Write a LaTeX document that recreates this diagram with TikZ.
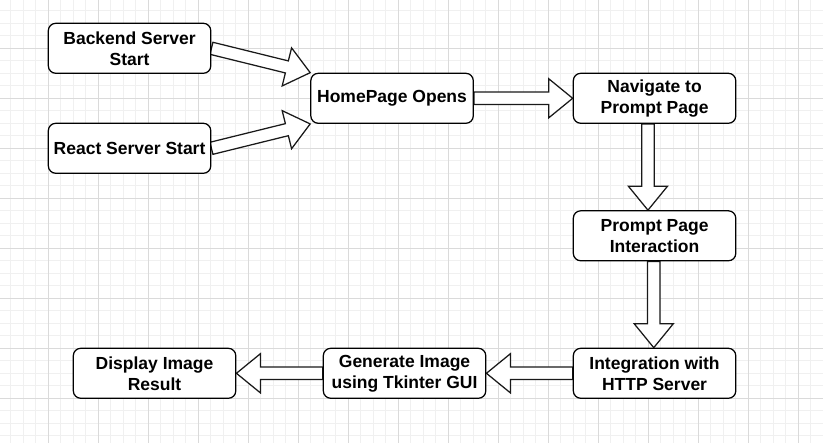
\documentclass[tikz,border=0pt]{standalone}
\usepackage{fontspec}
\setmainfont{Liberation Sans}
\usetikzlibrary{calc}
\pgfdeclarelayer{gridlayer}
\pgfdeclarelayer{arrowlayer}
\pgfsetlayers{gridlayer,arrowlayer,main}
\definecolor{minorc}{HTML}{F0F0F0}
\definecolor{majorc}{HTML}{DADADA}
\tikzset{
 box/.style={draw=black, line width=1.25pt, rounded corners=7.5pt, fill=white,
   minimum width=162.5pt, minimum height=50pt, inner sep=0pt, align=center,
   font=\fontsize{17.5}{21}\selectfont\bfseries},
 flexarrow/.style={draw=black!90, line width=1.25pt, fill=white, line join=miter},
 minorline/.style={draw=minorc, line width=1pt},
 majorline/.style={draw=majorc, line width=1pt},
}
\newcommand\blockarrow[2]{%
  \coordinate (ba-h) at ($(#2)!24pt!(#1)$);
  \draw[flexarrow] ($(#1)!6.2pt!90:(#2)$) -- ($(ba-h)!6.2pt!-90:(#1)$)
    -- ($(ba-h)!19.6pt!-90:(#1)$) -- (#2) -- ($(ba-h)!19.6pt!90:(#1)$)
    -- ($(ba-h)!6.2pt!90:(#1)$) -- ($(#1)!6.2pt!-90:(#2)$) -- cycle;
}
\begin{document}
\begin{tikzpicture}[x=1pt,y=-1pt]
\useasboundingbox (0,0) rectangle (823,443);
\begin{pgfonlayer}{gridlayer}
  \fill[white] (0,0) rectangle (823,443);
  \foreach \k in {0,...,66} \draw[minorline] ({-1.7+12.5*\k},0) -- ({-1.7+12.5*\k},443);
  \foreach \k in {0,...,36} \draw[minorline] (0,{-1.7+12.5*\k}) -- (823,{-1.7+12.5*\k});
  \foreach \k in {0,...,16} \draw[majorline] ({-1.7+50*\k},0) -- ({-1.7+50*\k},443);
  \foreach \k in {0,...,9} \draw[majorline] (0,{-1.7+50*\k}) -- (823,{-1.7+50*\k});
\end{pgfonlayer}

\node[box] (back)   at (129.55,48.3)  {Backend Server\\Start};
\node[box] (react)  at (129.55,148.3) {React Server Start};
\node[box] (home)   at (392.05,98.3)  {HomePage Opens};
\node[box] (nav)    at (654.55,98.3)  {Navigate to\\Prompt Page};
\node[box] (prompt) at (654.55,235.8) {Prompt Page\\Interaction};
\node[box] (integ)  at (654.55,373.3) {Integration with\\HTTP Server};
\node[box] (gen)    at (404.55,373.3) {Generate Image\\using Tkinter GUI};
\node[box] (disp)   at (154.55,373.3) {Display Image\\Result};

\coordinate (navout) at ([xshift=-6.6pt]nav.south);
\coordinate (promptin) at ([xshift=-6.6pt]prompt.north);
\coordinate (promptout) at ([xshift=-0.8pt]prompt.south);
\coordinate (integin) at ([xshift=-0.8pt]integ.north);

\begin{pgfonlayer}{arrowlayer}
  \blockarrow{back.east}{home.north west}
  \blockarrow{react.east}{home.south west}
  \blockarrow{home.east}{nav.west}
  \blockarrow{navout}{promptin}
  \blockarrow{promptout}{integin}
  \blockarrow{integ.west}{gen.east}
  \blockarrow{gen.west}{disp.east}
\end{pgfonlayer}
\end{tikzpicture}
\end{document}
